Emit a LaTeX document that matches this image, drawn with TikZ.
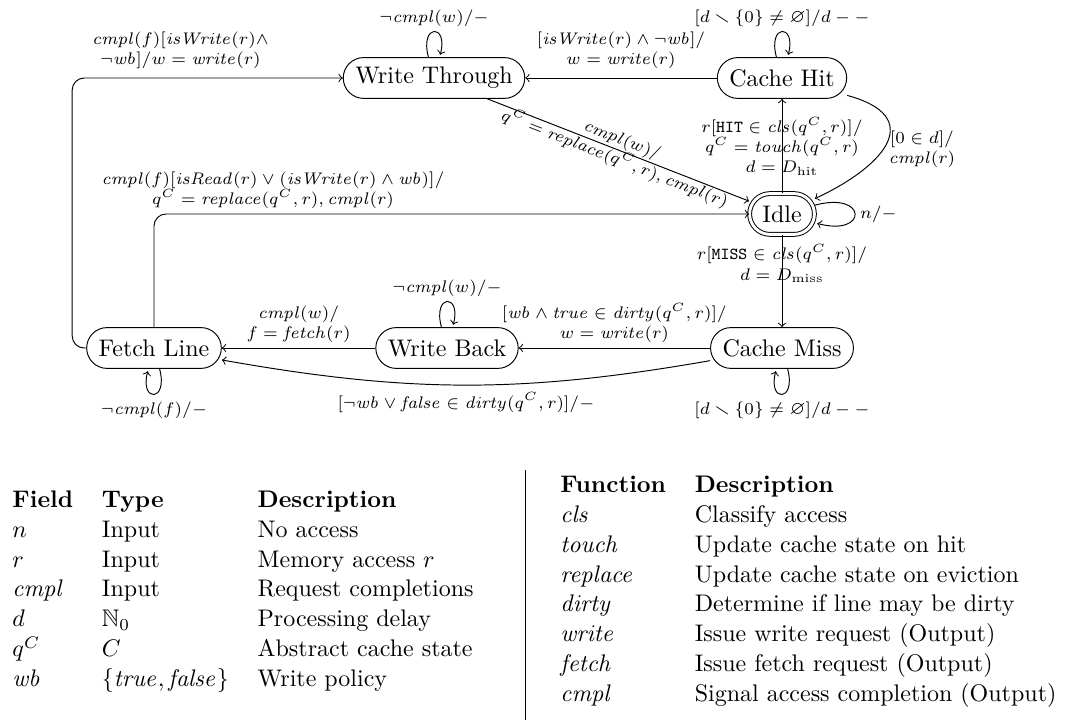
\documentclass[tikz,border=0pt]{standalone}
\usepackage{amssymb}
\usetikzlibrary{arrows}
\newcommand{\mfn}[1]{\mathit{#1}}
\begin{document}
\begin{tikzpicture}[x=0.41667pt,y=0.41667pt,>=to,
  state/.style={draw, rounded corners=8.5pt, minimum height=17pt, inner xsep=5pt},
  lbl/.style={font=\fontsize{7.5}{8.4}\selectfont, align=center, inner sep=2pt},
  tbl/.style={inner sep=0pt, font=\normalsize}]
\path[use as bounding box] (0,0) rectangle (1072,720);
% states
\node[state] (WT) at (434,642) {Write Through};
\node[state] (CH) at (782,642) {Cache Hit};
\node[state, double, double distance=1.2pt, minimum width=27pt] (Idle) at (782,506) {Idle};
\node[state] (CM) at (782,372) {Cache Miss};
\node[state] (WB) at (447,372) {Write Back};
\node[state] (FL) at (154,372) {Fetch Line};
% transitions
\begin{scope}[->]
\draw (CH) -- node[lbl,above,inner sep=3.5pt] {$[\mfn{isWrite}(r)\wedge\neg\mfn{wb}]/$\\$w=\mfn{write}(r)$} (WT);
\draw[rounded corners=5pt] (FL.west) -- ++(-14,0) |- node[lbl,above,pos=0.7,inner sep=3.5pt] {$\mfn{cmpl}(f)[\mfn{isWrite}(r)\wedge$\\$\neg\mfn{wb}]/w=\mfn{write}(r)$} (WT.west);
\path (WT) edge[loop above] node[lbl,above] {$\neg\mfn{cmpl}(w)/-$} ();
\path (CH) edge[loop above] node[lbl,above] {$[d\smallsetminus\{0\}\neq\varnothing]/d--$} ();
\draw (WT) -- node[lbl,sloped] {$\mfn{cmpl}(w)/$\\$q^C=\mfn{replace}(q^C,r),\mfn{cmpl}(r)$} (Idle);
\draw (Idle) -- node[lbl] {$r[\mathtt{HIT}\in\mfn{cls}(q^C,r)]/$\\$q^C=\mfn{touch}(q^C,r)$\\$d=D_{\mathrm{hit}}$} (CH);
\draw (Idle) -- node[lbl,pos=0.31] {$r[\mathtt{MISS}\in\mfn{cls}(q^C,r)]/$\\$d=D_{\mathrm{miss}}$} (CM);
\draw (CH) to[out=-15,in=25,looseness=1.9] node[lbl,right,pos=0.56] {$[0\in d]/$\\$\mfn{cmpl}(r)$} (Idle);
\path (Idle) edge[loop right] node[lbl,right] {$n/-$} ();
\draw[rounded corners=5pt] (FL.north) |- node[lbl,above,pos=0.6] {$\mfn{cmpl}(f)[\mfn{isRead}(r)\vee(\mfn{isWrite}(r)\wedge\mfn{wb})]/$\\$q^C=\mfn{replace}(q^C,r),\mfn{cmpl}(r)$} (Idle.west);
\draw (CM) -- node[lbl,above] {$[\mfn{wb}\wedge\mfn{true}\in\mfn{dirty}(q^C,r)]/$\\$w=\mfn{write}(r)$} (WB);
\draw (WB) -- node[lbl,above] {$\mfn{cmpl}(w)/$\\$f=\mfn{fetch}(r)$} (FL);
\draw (CM) to[bend left=10] node[lbl,below,inner sep=3pt] {$[\neg\mfn{wb}\vee\mfn{false}\in\mfn{dirty}(q^C,r)]/-$} (FL);
\path (WB) edge[loop above] node[lbl,above] {$\neg\mfn{cmpl}(w)/-$} ();
\path (FL) edge[loop below] node[lbl,below,inner sep=3pt] {$\neg\mfn{cmpl}(f)/-$} ();
\path (CM) edge[loop below] node[lbl,below,inner sep=3pt] {$[d\smallsetminus\{0\}\neq\varnothing]/d--$} ();
\end{scope}
% separator
\coordinate (septop) at (525,250);
\coordinate (sepbot) at (525,0);
\draw (septop) -- (sepbot);
% tables
\node[tbl,anchor=west] (ltab) at (12,129) {\renewcommand{\arraystretch}{1.04}%
\begin{tabular}{@{}lll@{}}
\textbf{Field} & \textbf{Type} & \textbf{Description}\\
$n$ & Input & No access\\
$r$ & Input & Memory access $r$\\
$\mfn{cmpl}$ & Input & Request completions\\
$d$ & $\mathbb{N}_0$ & Processing delay\\
$q^C$ & $C$ & Abstract cache state\\
$\mfn{wb}$ & $\{\mfn{true},\mfn{false}\}$ & Write policy
\end{tabular}};
\node[tbl,anchor=west] (rtab) at (560,129) {\renewcommand{\arraystretch}{1.04}%
\begin{tabular}{@{}ll@{}}
\textbf{Function} & \textbf{Description}\\
$\mfn{cls}$ & Classify access\\
$\mfn{touch}$ & Update cache state on hit\\
$\mfn{replace}$ & Update cache state on eviction\\
$\mfn{dirty}$ & Determine if line may be dirty\\
$\mfn{write}$ & Issue write request (Output)\\
$\mfn{fetch}$ & Issue fetch request (Output)\\
$\mfn{cmpl}$ & Signal access completion (Output)
\end{tabular}};
\end{tikzpicture}
\end{document}
